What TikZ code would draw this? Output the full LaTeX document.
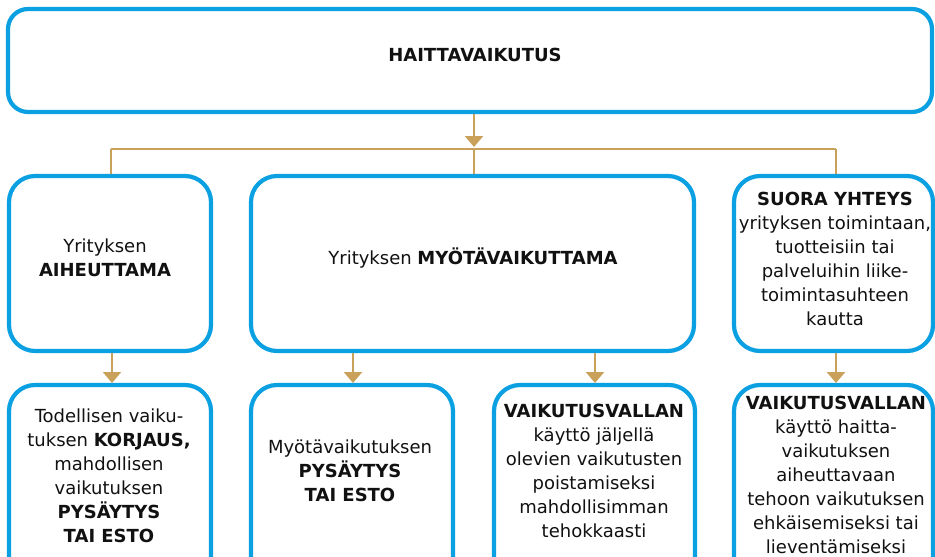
\documentclass[tikz,border=0pt]{standalone}
\usepackage{fontspec}
\setmainfont{DejaVu Sans}
\usetikzlibrary{arrows.meta}
\definecolor{bxblue}{HTML}{0AA0E2}
\definecolor{gold}{HTML}{C9A15B}
\definecolor{ink}{HTML}{111111}
\begin{document}
\begin{tikzpicture}[x=1pt,y=-1pt,
  box/.style={draw=bxblue, line width=4.2pt, rounded corners=26pt, inner sep=0pt, outer sep=0pt, fill=white},
  txt/.style={align=center, inner sep=0pt, text=ink, font=\fontsize{18}{24}\selectfont},
  conn/.style={draw=gold, line width=2.5pt},
  arr/.style={conn, -{Triangle[width=18pt,length=11pt]}}]
\useasboundingbox (0,0) rectangle (935,557);
% boxes
\node[box, rounded corners=20pt, minimum width=924pt, minimum height=103pt] (top) at (470,60.5) {};
\node[box, minimum width=202pt, minimum height=175pt] (L2) at (110,263.5) {};
\node[box, minimum width=443pt, minimum height=175pt] (M2) at (472.5,263.5) {};
\node[box, minimum width=199pt, minimum height=175pt] (R2) at (833.5,263.5) {};
\node[box, minimum width=202pt, minimum height=205pt] (B1) at (110,487.5) {};
\node[box, minimum width=202pt, minimum height=205pt] (B2) at (352,487.5) {};
\node[box, minimum width=201pt, minimum height=205pt] (B3) at (594.5,487.5) {};
\node[box, minimum width=199pt, minimum height=205pt] (B4) at (833.5,487.5) {};
% connectors
\coordinate (jt) at (474,147);
\coordinate (jc) at (474,149);
\coordinate (jl) at (111,149);
\coordinate (jr) at (836,149);
\coordinate (a1) at (112,0);
\coordinate (a2) at (353,0);
\coordinate (a3) at (595,0);
\coordinate (a4) at (836,0);
\draw[arr] (jt |- top.south) ++(0,2) -- (jt);
\draw[conn] (jl) -- (jr);
\draw[conn, shorten >=2pt] (jl) -- (jl |- L2.north);
\draw[conn, shorten >=2pt] (jc) -- (jc |- M2.north);
\draw[conn, shorten >=2pt] (jr) -- (jr |- R2.north);
\draw[arr, shorten <=2pt, shorten >=2pt] (a1 |- L2.south) -- (a1 |- B1.north);
\draw[arr, shorten <=2pt, shorten >=2pt] (a2 |- M2.south) -- (a2 |- B2.north);
\draw[arr, shorten <=2pt, shorten >=2pt] (a3 |- M2.south) -- (a3 |- B3.north);
\draw[arr, shorten <=2pt, shorten >=2pt] (a4 |- R2.south) -- (a4 |- B4.north);
% texts
\node[txt] (t0) at (475,55) {\textbf{HAITTAVAIKUTUS}};
\node[txt] (tL2) at (105,258) {Yrityksen\\\textbf{AIHEUTTAMA}};
\node[txt] (tM2) at (473,258) {Yrityksen \textbf{MYÖTÄVAIKUTTAMA}};
\node[txt] (tR2) at (835,259) {\textbf{SUORA YHTEYS}\\yrityksen toimintaan,\\tuotteisiin tai\\palveluihin liike-\\toimintasuhteen\\kautta};
\node[txt] (tB1) at (109,476) {Todellisen vaiku-\\tuksen \textbf{KORJAUS,}\\mahdollisen\\vaikutuksen\\\textbf{PYSÄYTYS}\\\textbf{TAI ESTO}};
\node[txt] (tB2) at (350,471) {Myötävaikutuksen\\\textbf{PYSÄYTYS}\\\textbf{TAI ESTO}};
\node[txt] (tB3) at (594,471) {\textbf{VAIKUTUSVALLAN}\\käyttö jäljellä\\olevien vaikutusten\\poistamiseksi\\mahdollisimman\\tehokkaasti};
\node[txt] (tB4) at (836,475) {\textbf{VAIKUTUSVALLAN}\\käyttö haitta-\\vaikutuksen\\aiheuttavaan\\tehoon vaikutuksen\\ehkäisemiseksi tai\\lieventämiseksi};
\end{tikzpicture}
\end{document}
